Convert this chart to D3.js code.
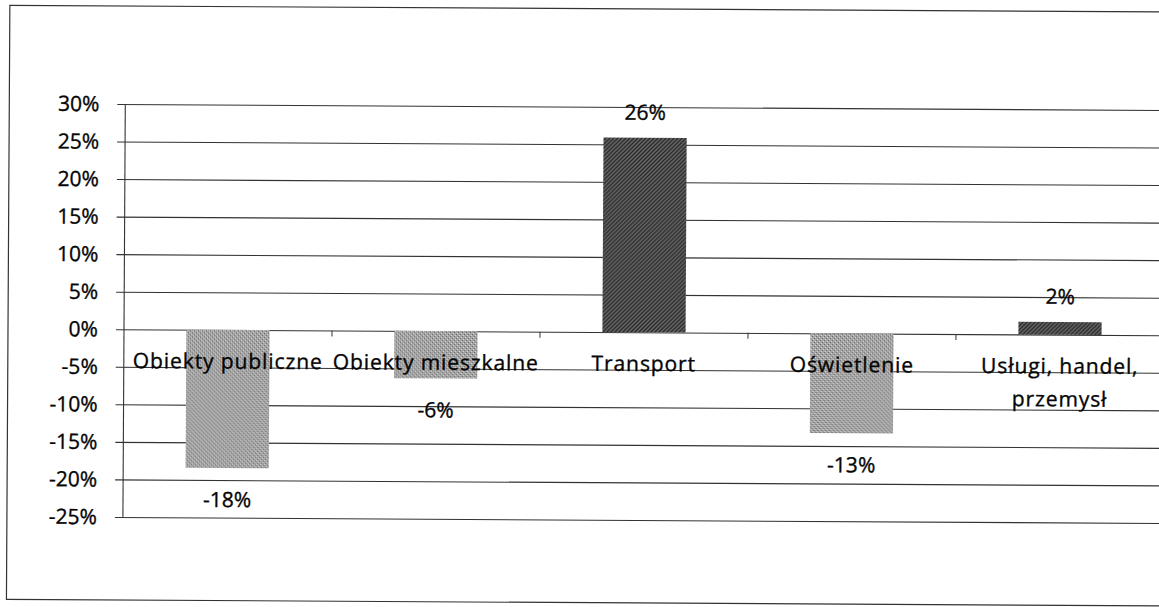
<!DOCTYPE html>
<html>
<head>
<meta charset="utf-8">
<script src="https://cdn.jsdelivr.net/npm/d3@7"></script>
<style>
  html, body { margin: 0; padding: 0; background: #fff; }
  svg { display: block; }
  text { font-family: "Open Sans", Lato, sans-serif; fill: #050505; stroke: #050505; stroke-width: 0.35px; }
</style>
</head>
<body>
<svg id="chart" width="1159" height="607"></svg>
<script>
// ---- data ----
const categories = ["Obiekty publiczne", "Obiekty mieszkalne", "Transport", "Oświetlenie", "Usługi, handel, przemysł"];
const categoryLines = [["Obiekty publiczne"], ["Obiekty mieszkalne"], ["Transport"], ["Oświetlenie"], ["Usługi, handel,", "przemysł"]];
const values = [-0.184, -0.063, 0.259, -0.133, 0.017];
const valueLabels = ["-18%", "-6%", "26%", "-13%", "2%"];
const yTicks = [0.30, 0.25, 0.20, 0.15, 0.10, 0.05, 0, -0.05, -0.10, -0.15, -0.20, -0.25];

// ---- layout ----
const svg = d3.select("#chart");
const plotLeft = 124, plotRight = 1164, plotTop = 104, plotBottom = 517;

const defs = svg.append("defs");
// negative bars: fine gray stipple
const pn = defs.append("pattern").attr("id", "negPat").attr("patternUnits", "userSpaceOnUse")
  .attr("width", 4).attr("height", 4);
pn.append("rect").attr("width", 4).attr("height", 4).attr("fill", "#a4a4a4");
pn.append("rect").attr("x", 0).attr("y", 0).attr("width", 1).attr("height", 1).attr("fill", "#666");
pn.append("rect").attr("x", 2).attr("y", 2).attr("width", 1).attr("height", 1).attr("fill", "#666");
pn.append("rect").attr("x", 1).attr("y", 3).attr("width", 1).attr("height", 1).attr("fill", "#dadada");
pn.append("rect").attr("x", 3).attr("y", 1).attr("width", 1).attr("height", 1).attr("fill", "#dadada");
// positive bars: dark diagonal hatching
const pp = defs.append("pattern").attr("id", "posPat").attr("patternUnits", "userSpaceOnUse")
  .attr("width", 4).attr("height", 4);
pp.append("rect").attr("width", 4).attr("height", 4).attr("fill", "#6a6a6a");
pp.append("path").attr("d", "M-1,1 L1,-1 M0,4 L4,0 M3,5 L5,3").attr("stroke", "#262626").attr("stroke-width", 1.3);

const root = svg.append("g").attr("transform", "rotate(0.33, 124, 329)");

// outer frame (right side runs off the picture)
root.append("rect").attr("x", 8).attr("y", 6).attr("width", 1200).attr("height", 594)
  .attr("fill", "none").attr("stroke", "#333").attr("stroke-width", 1.2);

const x = d3.scaleBand().domain(categories).range([plotLeft, plotRight]).paddingInner(0.6).paddingOuter(0.3);
const y = d3.scaleLinear().domain([-0.25, 0.30]).range([plotBottom, plotTop]);
const pct = d => d3.format(".0%")(d).replace("\u2212", "-");

// gridlines + y axis
const yAxis = d3.axisLeft(y).tickValues(yTicks).tickFormat(pct)
  .tickSize(-(plotRight - plotLeft)).tickPadding(26);
const gy = root.append("g").attr("transform", `translate(${plotLeft},0)`).call(yAxis);
gy.select(".domain").remove();
gy.selectAll(".tick line").attr("x1", -8).attr("stroke", "#333").attr("stroke-width", 1.1);
gy.selectAll(".tick text").attr("font-size", 21).attr("fill", "#050505")
  .style("font-family", "'Open Sans', Lato, sans-serif");
root.append("line").attr("x1", plotLeft).attr("x2", plotLeft).attr("y1", plotTop).attr("y2", plotBottom)
  .attr("stroke", "#333").attr("stroke-width", 1.1);

// bars
root.append("g").selectAll("rect").data(values).join("rect")
  .attr("x", (d, i) => x(categories[i]))
  .attr("width", x.bandwidth())
  .attr("y", d => y(Math.max(0, d)))
  .attr("height", d => Math.abs(y(d) - y(0)))
  .attr("fill", d => d >= 0 ? "url(#posPat)" : "url(#negPat)");

// category ticks on zero line
const boundaries = categories.slice(1).map(c => x(c) - x.step() * x.paddingInner() / 2);
root.append("g").selectAll("line").data(boundaries).join("line")
  .attr("x1", d => d).attr("x2", d => d).attr("y1", y(0)).attr("y2", y(0) + 6)
  .attr("stroke", "#333").attr("stroke-width", 1);

// category labels
const cl = root.append("g").selectAll("text").data(categoryLines).join("text")
  .attr("x", (d, i) => x(categories[i]) + x.bandwidth() / 2)
  .attr("y", 368)
  .attr("text-anchor", "middle").attr("font-size", 21)
  .style("letter-spacing", "0.9px");
cl.selectAll("tspan").data(d => d).join("tspan")
  .attr("x", function () { return d3.select(this.parentNode).attr("x"); })
  .attr("dy", (d, j) => j === 0 ? 0 : 33)
  .text(d => d);

// value labels
root.append("g").selectAll("text").data(values).join("text")
  .attr("x", (d, i) => x(categories[i]) + x.bandwidth() / 2)
  .attr("y", d => d >= 0 ? y(d) - 18 : y(d) + 39)
  .attr("text-anchor", "middle").attr("font-size", 21)
  .text((d, i) => valueLabels[i]);
</script>
</body>
</html>
